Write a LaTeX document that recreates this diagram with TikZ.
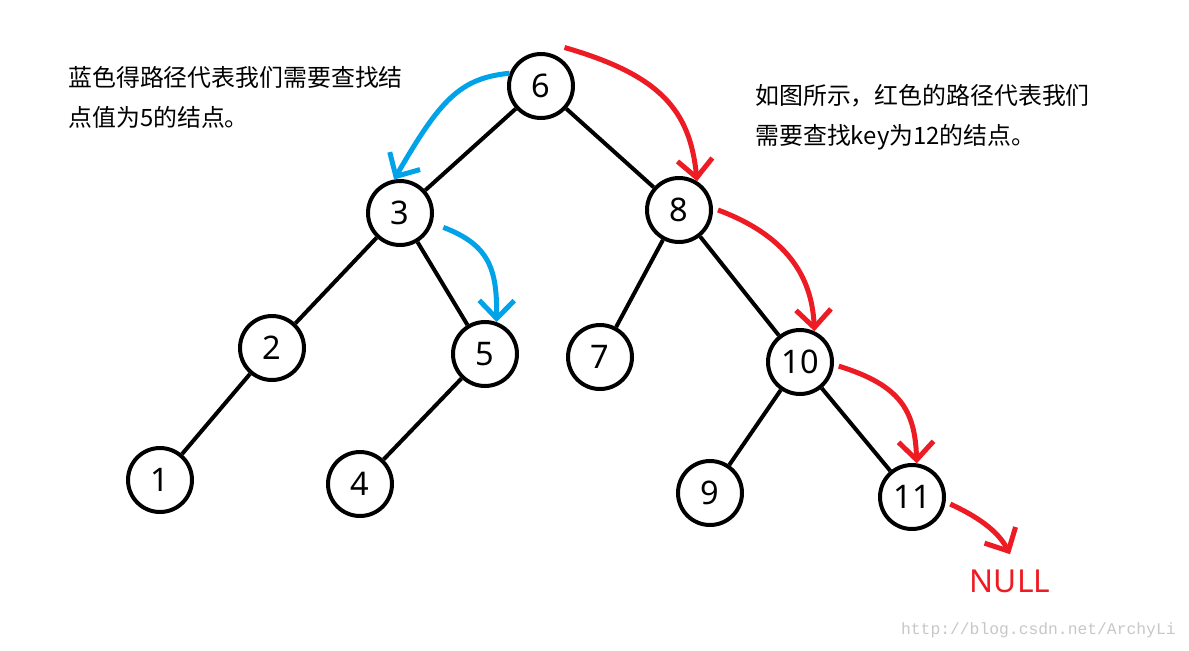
\documentclass[tikz,border=0pt]{standalone}
\usepackage{fontspec}
\setmainfont{Noto Sans}
\newfontfamily\cjk{Noto Sans CJK SC}
\setmonofont{Liberation Mono}
\usetikzlibrary{arrows.meta}
\definecolor{pathblue}{RGB}{0,162,232}
\definecolor{pathred}{RGB}{237,28,36}

\begin{document}
\begin{tikzpicture}[x=0.02cm, y=-0.02cm,
roundnode/.style={circle, draw=black, fill=white, line width=0.08cm, minimum size=1.28cm, inner sep=0pt, font=\fontsize{18.5}{20}\selectfont},
treeedge/.style={line width=0.08cm},
bluepath/.style={draw=pathblue, line width=0.1cm, -{Straight Barb[length=3.6mm, width=7mm]}},
redpath/.style={draw=pathred, line width=0.1cm, -{Straight Barb[length=3.6mm, width=7mm]}},
notetext/.style={anchor=west, align=left, inner sep=0pt, font=\cjk\fontsize{13.6}{22.7}\selectfont}
]
\useasboundingbox (0,0) rectangle (1189,650);

\node [roundnode] (n6) at (541,86) {6};

    \node [roundnode] (n3) at (400,213) {3};
    \node [roundnode] (n8) at (679,210) {8};

    \node [roundnode] (n2) at (272,348) {2};
    \node [roundnode] (n5) at (485,354) {5};
    \node [roundnode] (n7) at (600,357) {7};
    \node [roundnode] (n10) at (800,362) {10};

    \node [roundnode] (n1) at (160,480) {1};
    \node [roundnode] (n4) at (360,484) {4};
    \node [roundnode] (n9) at (710,493) {9};
    \node [roundnode] (n11) at (912,497) {11};

    \node [text=pathred, inner sep=0pt, font=\fontsize{18}{20}\selectfont] (null) at (1010,581) {NULL};

    \draw [treeedge] (n6) edge (n3);
    \draw [treeedge] (n6) edge (n8);
    \draw [treeedge] (n3) edge (n2);
    \draw [treeedge] (n3) edge (n5);
    \draw [treeedge] (n2) edge (n1);
    \draw [treeedge] (n5) edge (n4);
    \draw [treeedge] (n8) edge (n7);
    \draw [treeedge] (n8) edge (n10);
    \draw [treeedge] (n10) edge (n9);
    \draw [treeedge] (n10) edge (n11);

    % search path for 5
    \draw [bluepath] (n6.158) .. controls (460,78) and (440,100) .. (n3.100);
    \draw [bluepath] ([xshift=0.25cm]n3.-25) .. controls (490,245) and (497,270) .. (n5.70);

    % search path for 12
    \draw [redpath] ([xshift=0.1cm, yshift=0.2cm]n6.57) .. controls (660,75) and (690,110) .. (n8.58);
    \draw [redpath] ([xshift=0.1cm]n8.east) .. controls (785,235) and (812,275) .. (n10.65);
    \draw [redpath] ([xshift=0.1cm]n10.-7) .. controls (900,385) and (915,410) .. (n11.82);
    \draw [redpath] ([xshift=0.1cm]n11.-12) .. controls (985,520) and (1000,535) .. ([yshift=0.3cm]null.north);

    \node [notetext] (leftnote) at (68,97) {蓝色得路径代表我们需要查找结\\点值为5的结点。};
    \node [notetext] (rightnote) at (755,117) {如图所示，红色的路径代表我们\\需要查找key为12的结点。};

    \node [text=black!22, inner sep=0pt, anchor=east, font=\ttfamily\fontsize{9.3}{11}\selectfont] (mark) at (1176,630) {http://blog.csdn.net/ArchyLi};
    \end{tikzpicture}
\end{document}
